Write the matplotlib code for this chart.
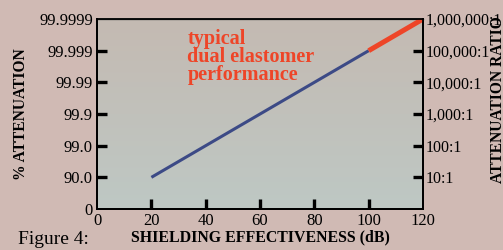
import numpy as np
import matplotlib.pyplot as plt
from matplotlib.colors import LinearSegmentedColormap
from matplotlib.lines import Line2D

plt.rcParams['font.family'] = ['Liberation Serif', 'DejaVu Serif']

# shielding effectiveness (dB) on both axes
db_ticks = [0, 20, 40, 60, 80, 100, 120]
pct_labels = ['0', '90.0', '99.0', '99.9', '99.99', '99.999', '99.9999']
ratio_labels = ['', '10:1', '100:1', '1,000:1', '10,000:1', '100,000:1', '1,000,000:1']

typical_x = [20, 100]
typical_y = [20, 100]
elastomer_x = [100, 120]
elastomer_y = [100, 120]

fig_bg = '#d0bab4'
fig = plt.figure(figsize=(5.03, 2.5), dpi=100, facecolor=fig_bg)
ax = fig.add_axes([0.193, 0.164, 0.648, 0.76])

grad = LinearSegmentedColormap.from_list('bg', ['#bec8c4', '#c4bab2'])
ax.imshow(np.linspace(0, 1, 256).reshape(-1, 1), cmap=grad, origin='lower',
          extent=[0, 120, 0, 120], aspect='auto', zorder=0)

ax.plot(typical_x, typical_y, color='#3c4a86', lw=2.2, solid_capstyle='butt', zorder=3)
ax.plot(elastomer_x, elastomer_y, color='#ee4528', lw=3.6, solid_capstyle='butt', zorder=4)

ax.set_xlim(0, 120)
ax.set_ylim(0, 120)
ax.set_xticks(db_ticks)
ax.set_xticklabels([str(t) for t in db_ticks], fontsize=12)
ax.set_yticks(db_ticks)
ax.set_yticklabels(pct_labels, fontsize=12)
ax.tick_params(axis='both', length=0, pad=3)

ax2 = ax.twinx()
ax2.set_ylim(0, 120)
ax2.set_yticks(db_ticks)
ax2.set_yticklabels(ratio_labels, fontsize=11.5)
ax2.tick_params(axis='y', length=0, pad=2)

for a in (ax, ax2):
    for s in a.spines.values():
        s.set_linewidth(1.3)
        s.set_color('black')
ax.spines['top'].set_color('#555555')
ax.spines['top'].set_linewidth(1.0)

# heavy inward tick marks, skipping the corners, drawn on top of everything
tx = 10 / 326 * 120   # ~10 px in data units
ty = 10 / 190 * 120
for t in db_ticks[1:-1]:
    for xs, ys in (([t, t], [0, ty]), ([0, tx], [t, t]), ([120 - tx, 120], [t, t])):
        fig.add_artist(Line2D(xs, ys, transform=ax.transData, color='black',
                              lw=2.4, solid_capstyle='butt', zorder=20))

ax.set_xlabel('SHIELDING EFFECTIVENESS (dB)', fontsize=11.4, fontweight='bold', labelpad=0)
ax.set_ylabel('% ATTENUATION', fontsize=11.2, fontweight='bold', labelpad=7)
fig.text(0.99, 0.60, 'ATTENUATION RATIO', rotation=90, ha='center', va='center',
         fontsize=11.2, fontweight='bold')

ax.text(0.277, 0.945, 'typical\ndual elastomer\nperformance', transform=ax.transAxes,
        ha='left', va='top', color='#ee4528', fontsize=14.5, fontweight='bold',
        linespacing=0.86, zorder=6)

fig.text(0.036, 0.025, 'Figure 4:', fontsize=14, ha='left', va='baseline')

fig.savefig('out.png', dpi=100, facecolor=fig_bg)
